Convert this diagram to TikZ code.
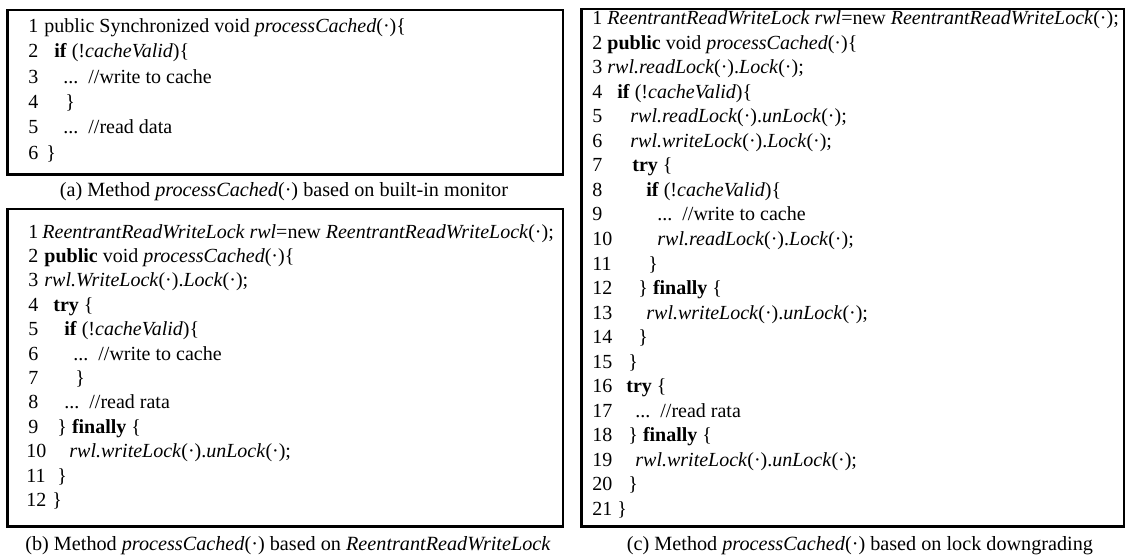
\documentclass[tikz,border=0pt]{standalone}
\usepackage{fontspec}
\setmainfont{Liberation Serif}
\newcommand\pdot{(\textperiodcentered)}
\newcommand\codeline[4]{% #1 line number, #2 number x, #3 code x, #4 code
  \node[lnum] (\bx n#1) at (#2,\by+\bs*#1-\bs) {#1};
  \node[code] (\bx c#1) at (#3,\by+\bs*#1-\bs) {#4};}
\begin{document}
\begin{tikzpicture}[x=0.5pt,y=-0.5pt,
  code/.style={anchor=base west,inner sep=0pt,font=\fontsize{10}{12}\selectfont},
  lnum/.style={code},
  frame/.style={draw,line width=0.8pt,anchor=north west,inner sep=0pt},
  heavy/.style={line width=1.4pt},
  caption/.style={anchor=base,inner sep=0pt,font=\fontsize{10.1}{12}\selectfont}]
\useasboundingbox (0,0) rectangle (1125,557);

% frames
\node[frame,minimum width=277.5pt,minimum height=82pt] (boxa) at (7,9) {};
\node[frame,minimum width=277.5pt,minimum height=158.5pt] (boxb) at (7,208) {};
\node[frame,minimum width=271pt,minimum height=258.5pt] (boxc) at (581,8) {};
\draw[heavy] (boxa.north west) -- (boxa.south west) -- (boxa.south east);
\draw[heavy] (boxb.north west) -- (boxb.south west) -- (boxb.south east);
\draw[heavy] (boxc.north west) -- (boxc.south west) -- (boxc.south east);

% (a) built-in monitor
\def\bx{a}\def\by{32.5}\def\bs{25.3}
\codeline{1}{28}{44}{public Synchronized void \textit{processCached}\pdot\{}
\codeline{2}{28}{54}{\textbf{if} (!\textit{cacheValid})\{}
\codeline{3}{28}{63}{...~~//write to cache}
\codeline{4}{28}{65}{\}}
\codeline{5}{28}{63}{...~~//read data}
\codeline{6}{28}{46}{\}}
\node[caption] (capa) at (284,196) {(a) Method \textit{processCached}\pdot{} based on built-in monitor};

% (b) ReentrantReadWriteLock
\def\bx{b}\def\by{238}\def\bs{24.4}
\codeline{1}{28}{42}{\textit{ReentrantReadWriteLock rwl}=new \textit{ReentrantReadWriteLock}\pdot;}
\codeline{2}{28}{44}{\textbf{public} void \textit{processCached}\pdot\{}
\codeline{3}{28}{44}{\textit{rwl.WriteLock}\pdot.\textit{Lock}\pdot;}
\codeline{4}{28}{53}{\textbf{try} \{}
\codeline{5}{28}{64}{\textbf{if} (!\textit{cacheValid})\{}
\codeline{6}{28}{73}{...~~//write to cache}
\codeline{7}{28}{75}{\}}
\codeline{8}{28}{64}{...~~//read rata}
\codeline{9}{28}{57}{\} \textbf{finally} \{}
\codeline{10}{26}{69}{\textit{rwl.writeLock}\pdot.\textit{unLock}\pdot;}
\codeline{11}{26}{57}{\}}
\codeline{12}{26}{52}{\}}
\node[caption] (capb) at (288,550) {(b) Method \textit{processCached}\pdot{} based on \textit{ReentrantReadWriteLock}};

% (c) lock downgrading
\def\bx{c}\def\by{24.5}\def\bs{24.55}
\codeline{1}{592}{607}{\textit{ReentrantReadWriteLock rwl}=new \textit{ReentrantReadWriteLock}\pdot;}
\codeline{2}{592}{607}{\textbf{public} void \textit{processCached}\pdot\{}
\codeline{3}{592}{607}{\textit{rwl.readLock}\pdot.\textit{Lock}\pdot;}
\codeline{4}{592}{617}{\textbf{if} (!\textit{cacheValid})\{}
\codeline{5}{592}{630}{\textit{rwl.readLock}\pdot.\textit{unLock}\pdot;}
\codeline{6}{592}{630}{\textit{rwl.writeLock}\pdot.\textit{Lock}\pdot;}
\codeline{7}{592}{632}{\textbf{try} \{}
\codeline{8}{592}{646}{\textbf{if} (!\textit{cacheValid})\{}
\codeline{9}{592}{657}{...~~//write to cache}
\codeline{10}{592}{657}{\textit{rwl.readLock}\pdot.\textit{Lock}\pdot;}
\codeline{11}{592}{648}{\}}
\codeline{12}{592}{638}{\} \textbf{finally} \{}
\codeline{13}{592}{646}{\textit{rwl.writeLock}\pdot.\textit{unLock}\pdot;}
\codeline{14}{592}{638}{\}}
\codeline{15}{592}{628}{\}}
\codeline{16}{592}{626}{\textbf{try} \{}
\codeline{17}{592}{635}{...~~//read rata}
\codeline{18}{592}{628}{\} \textbf{finally} \{}
\codeline{19}{592}{635}{\textit{rwl.writeLock}\pdot.\textit{unLock}\pdot;}
\codeline{20}{592}{628}{\}}
\codeline{21}{592}{617}{\}}
\node[caption] (capc) at (860,550) {(c) Method \textit{processCached}\pdot{} based on lock downgrading};
\end{tikzpicture}
\end{document}
